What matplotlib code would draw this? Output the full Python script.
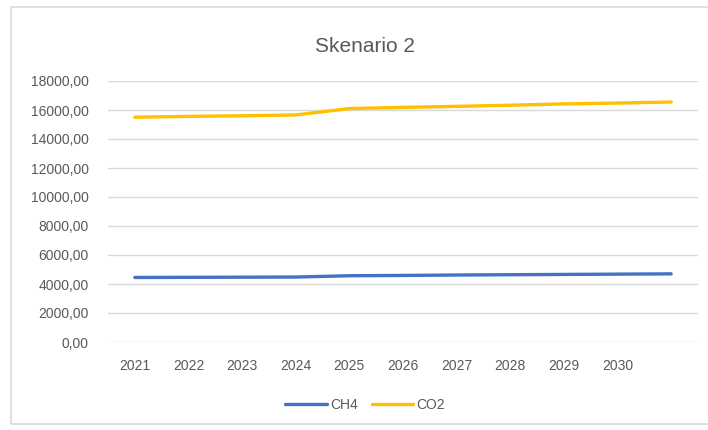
import matplotlib
matplotlib.use('Agg')
import matplotlib.pyplot as plt
from matplotlib.patches import Rectangle

years = ['2021', '2022', '2023', '2024', '2025', '2026', '2027', '2028', '2029', '2030']
ch4 = [4450, 4460, 4470, 4480, 4570, 4590, 4620, 4640, 4660, 4680, 4700]
co2 = [15500, 15560, 15600, 15660, 16100, 16180, 16250, 16330, 16420, 16480, 16550]
y_ticks = [0, 2000, 4000, 6000, 8000, 10000, 12000, 14000, 16000, 18000]

plt.rcParams['font.family'] = ['Liberation Sans', 'DejaVu Sans']
grey = '#595959'

fig = plt.figure(figsize=(7.08, 4.30), dpi=100)
ax = fig.add_axes([108 / 708, 1 - 342 / 430, 590 / 708, 261 / 430])

x = list(range(len(ch4)))
ax.plot(x, ch4, color='#4472C4', lw=2.4, label='CH4', solid_capstyle='round')
ax.plot(x, co2, color='#FFC000', lw=2.4, label='CO2', solid_capstyle='round')

ax.set_xlim(-0.5, len(ch4) - 0.5)
ax.set_ylim(0, 18000)
ax.set_yticks(y_ticks)
ax.set_yticklabels(['{:.2f}'.format(v).replace('.', ',') for v in y_ticks])
ax.set_xticks(range(len(years)))
ax.set_xticklabels(years)
ax.tick_params(length=0, colors=grey, labelsize=10)
ax.tick_params(axis='y', pad=14)
ax.tick_params(axis='x', pad=12)
ax.grid(axis='y', color='#d9d9d9', lw=1)
ax.set_axisbelow(True)
for s in ax.spines.values():
    s.set_visible(False)

fig.text(365 / 708, 1 - 46 / 430, 'Skenario 2', ha='center', va='center',
         fontsize=15, color=grey)
fig.legend(loc='center', bbox_to_anchor=(365 / 708, 1 - 405 / 430), ncol=2,
           frameon=False, fontsize=10, labelcolor=grey, handlelength=3,
           columnspacing=1.0, handletextpad=0.2)

# chart border (right edge is cut off in the reference)
fig.patches.append(Rectangle((11 / 708, 6 / 430), 1.0, 1 - 13 / 430, transform=fig.transFigure,
                             fill=False, edgecolor='#d9d9d9', lw=1.2))

fig.savefig('out.png', dpi=100)
